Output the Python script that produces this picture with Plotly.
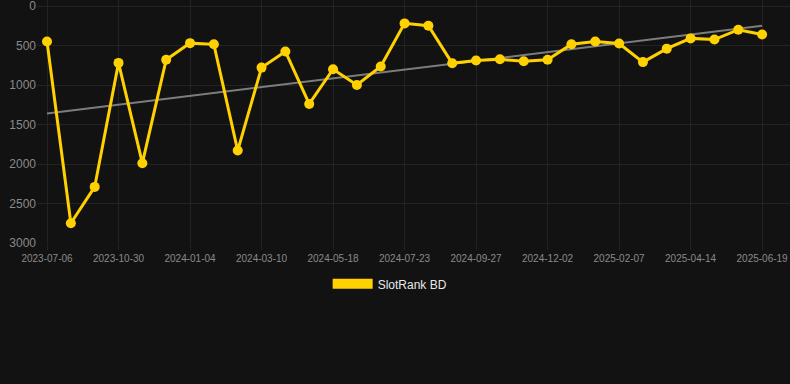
import plotly.graph_objects as go

dates = [
    "2023-07-06", "2023-08-14", "2023-09-22", "2023-10-30", "2023-11-21", "2023-12-13",
    "2024-01-04", "2024-01-26", "2024-02-17", "2024-03-10", "2024-04-02", "2024-04-25",
    "2024-05-18", "2024-06-09", "2024-07-01", "2024-07-23", "2024-08-14", "2024-09-05",
    "2024-09-27", "2024-10-19", "2024-11-10", "2024-12-02", "2024-12-24", "2025-01-16",
    "2025-02-07", "2025-03-01", "2025-03-23", "2025-04-14", "2025-05-06", "2025-05-28",
    "2025-06-19",
]
rank_bd = [
    450, 2750, 2290, 720, 1990, 680,
    470, 485, 1830, 780, 575, 1240,
    800, 1000, 765, 220, 250, 725,
    690, 675, 700, 680, 485, 450,
    475, 710, 540, 410, 425, 300,
    360,
]
trend_values = [1360, 250]
tick_labels = dates[::3]
y_ticks = [0, 500, 1000, 1500, 2000, 2500, 3000]

BG = "#121212"
GRID = "#232323"
YELLOW = "#FFD100"

fig = go.Figure()

fig.add_trace(go.Scatter(
    x=[dates[0], dates[-1]], y=trend_values, mode="lines",
    line=dict(color="rgba(160,160,160,0.75)", width=2),
    showlegend=False, hoverinfo="skip",
))

fig.add_trace(go.Scatter(
    x=dates, y=rank_bd, mode="lines+markers",
    line=dict(color=YELLOW, width=3),
    marker=dict(color=YELLOW, size=10),
    showlegend=False,
))

fig.add_trace(go.Scatter(
    x=[None], y=[None], mode="lines", name="SlotRank BD",
    line=dict(color=YELLOW, width=12),
))

fig.update_layout(
    width=790, height=384,
    paper_bgcolor=BG, plot_bgcolor=BG,
    margin=dict(l=37, r=0, t=0, b=141),
    font=dict(family="Liberation Sans, Arial, sans-serif", color="#8a8a8a"),
    showlegend=True,
    legend=dict(
        orientation="h", x=0.469, xanchor="center", y=-0.168, yanchor="middle",
        font=dict(size=12, color="#e8e8e8"), bgcolor="rgba(0,0,0,0)",
        itemwidth=40,
    ),
    xaxis=dict(
        type="category", categoryorder="array", categoryarray=dates,
        range=[-0.42, 31.17],
        tickvals=tick_labels, ticktext=tick_labels,
        showgrid=True, gridcolor=GRID, gridwidth=1,
        ticks="outside", ticklen=6, tickcolor=GRID,
        tickfont=dict(size=10, color="#8a8a8a"),
        showline=False, zeroline=False,
        ticklabeloverflow="allow",
    ),
    yaxis=dict(
        range=[3000, -76], tickvals=y_ticks,
        showgrid=True, gridcolor=GRID, gridwidth=1,
        tickfont=dict(size=12, color="#8a8a8a"),
        zeroline=False, showline=False, ticks="",
        ticklabeloverflow="allow",
    ),
)

fig.write_html(
    "out.html",
    config={"displayModeBar": False},
    post_script="document.body.style.margin='0';document.body.style.background='#121212';",
)
